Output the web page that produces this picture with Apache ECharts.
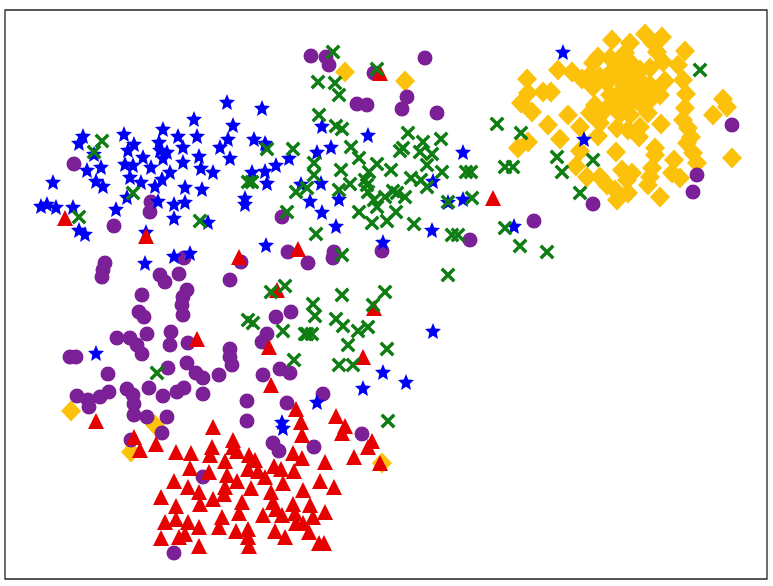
<!DOCTYPE html>
<html><head><meta charset="utf-8">
<script src="https://cdn.jsdelivr.net/npm/echarts@6/dist/echarts.min.js"></script>
<style>html,body{margin:0;padding:0;background:#fff}#c{width:773px;height:586px}</style></head>
<body><div id="c"></div>
<script>
const blueStars=[[227,102],[194,119],[233,125],[83,136],[79,143],[124,134],[134,144],[128,150],[163,129],[178,136],[197,136],[159,142],[183,147],[228,139],[220,147],[254,139],[167,152],[160,150],[199,156],[143,157],[125,164],[133,165],[151,167],[163,158],[183,162],[201,168],[213,172],[230,158],[252,172],[94,154],[101,167],[87,170],[96,181],[103,186],[130,177],[141,182],[170,172],[162,179],[155,186],[185,187],[202,189],[53,182],[41,206],[47,204],[56,207],[73,207],[79,230],[85,234],[116,209],[127,197],[158,201],[174,204],[185,202],[174,218],[208,222],[245,198],[245,204],[146,232],[145,263],[174,256],[190,253],[96,353],[266,245],[262,108],[322,126],[368,135],[265,143],[266,145],[331,147],[317,152],[289,158],[276,165],[265,171],[267,183],[301,184],[321,183],[463,152],[433,181],[339,199],[310,201],[322,212],[448,202],[463,199],[336,226],[432,230],[383,242],[514,226],[563,52],[584,139],[433,331],[383,372],[406,382],[363,388],[317,402],[282,422],[283,428]];
const greenCrosses=[[102,141],[94,152],[133,193],[79,217],[200,221],[248,182],[333,52],[377,69],[318,82],[335,83],[339,95],[319,115],[336,126],[342,129],[497,124],[408,133],[441,139],[423,142],[403,148],[400,151],[420,152],[432,154],[351,147],[293,149],[267,149],[359,158],[377,164],[314,163],[427,165],[341,170],[391,170],[369,172],[442,172],[314,175],[466,172],[471,172],[411,178],[421,180],[350,184],[365,180],[367,185],[427,187],[307,188],[296,192],[339,190],[368,192],[393,191],[397,193],[385,197],[405,197],[374,200],[377,207],[472,198],[448,202],[359,212],[396,212],[287,212],[387,221],[372,223],[414,224],[316,234],[452,235],[458,235],[505,228],[342,255],[252,182],[700,70],[521,133],[557,157],[593,160],[562,172],[580,193],[513,167],[505,167],[520,246],[547,252],[448,275],[342,295],[271,292],[285,286],[385,292],[313,304],[315,316],[373,305],[336,319],[343,326],[248,320],[253,323],[283,331],[305,334],[312,334],[307,334],[358,331],[368,327],[348,345],[387,349],[294,360],[339,365],[353,365],[388,421],[157,373]];
const purpleCircles=[[74,164],[151,202],[150,212],[114,226],[311,56],[326,57],[329,65],[425,58],[374,73],[407,97],[357,104],[367,105],[402,109],[437,113],[282,217],[470,240],[288,252],[334,252],[382,251],[308,263],[333,258],[732,125],[697,175],[693,192],[593,204],[534,221],[184,258],[105,263],[103,270],[102,277],[160,275],[165,282],[179,274],[230,280],[241,262],[142,295],[187,290],[183,297],[182,305],[183,315],[139,312],[144,317],[147,334],[117,338],[130,338],[137,345],[142,354],[171,332],[170,345],[188,343],[230,349],[230,357],[232,365],[70,357],[76,357],[108,374],[168,368],[187,363],[196,373],[203,378],[219,375],[263,375],[77,396],[88,400],[89,407],[100,397],[109,392],[127,389],[133,395],[134,404],[134,415],[147,417],[149,388],[163,396],[177,392],[184,388],[203,394],[247,401],[247,421],[167,417],[162,433],[276,317],[291,312],[267,334],[262,342],[280,369],[290,373],[323,394],[287,403],[273,443],[279,451],[314,447],[362,434],[203,477],[174,553],[131,440]];
const redTriangles=[[65,218],[380,73],[493,198],[298,249],[146,236],[239,257],[197,339],[277,290],[374,308],[269,347],[363,357],[271,385],[336,416],[345,426],[342,433],[96,421],[134,437],[140,450],[156,444],[213,427],[233,440],[212,447],[233,447],[237,451],[210,455],[176,452],[191,453],[225,461],[249,455],[255,460],[248,469],[258,471],[265,477],[190,468],[209,472],[227,475],[174,481],[237,481],[274,466],[281,469],[294,471],[293,453],[302,458],[325,462],[354,457],[368,447],[372,441],[380,463],[283,483],[320,481],[334,487],[188,487],[199,492],[225,487],[251,488],[224,494],[161,497],[213,499],[200,504],[176,506],[242,502],[271,492],[303,490],[273,502],[310,505],[293,504],[239,513],[263,515],[276,509],[282,515],[295,513],[325,512],[313,517],[176,519],[165,522],[188,522],[222,517],[296,523],[303,523],[199,527],[219,527],[236,531],[248,529],[275,531],[309,532],[185,534],[179,537],[161,538],[285,537],[248,537],[199,546],[249,546],[319,543],[324,543],[296,409],[301,422],[302,435]];
const yellowDiamonds=[[612,40],[630,43],[645,34],[662,37],[653,43],[657,52],[685,51],[625,53],[598,57],[593,63],[558,70],[572,72],[582,79],[622,63],[613,70],[633,72],[650,68],[663,62],[678,65],[600,77],[617,77],[593,87],[607,83],[640,80],[665,81],[683,80],[527,79],[543,92],[551,92],[528,93],[521,103],[532,112],[625,92],[633,90],[643,88],[660,95],[686,94],[723,99],[727,107],[685,108],[713,115],[683,120],[595,105],[625,103],[613,103],[640,103],[648,113],[568,115],[590,113],[600,123],[580,127],[661,124],[548,125],[617,128],[628,130],[640,127],[688,128],[639,137],[598,136],[560,139],[691,137],[687,143],[528,142],[518,148],[616,152],[655,148],[580,151],[693,153],[655,155],[674,160],[697,163],[732,158],[576,166],[652,168],[672,173],[622,170],[632,173],[587,177],[600,177],[680,178],[650,177],[627,180],[607,185],[648,185],[615,190],[628,193],[660,197],[617,200],[345,72],[405,81],[71,411],[131,452],[155,425],[382,463],[630,62],[640,70],[625,80],[635,100],[620,114],[610,95],[650,100],[605,110],[650,85],[610,58],[590,75],[630,115],[620,92],[640,92]];

const STAR='path://M50,0 L64,33 L100,36 L73,60 L81,96 L50,77 L19,96 L27,60 L0,36 L36,33Z';
const CROSS='path://M16,0 L50,34 L84,0 L100,16 L66,50 L100,84 L84,100 L50,66 L16,100 L0,84 L34,50 L0,16Z';
const TRI='path://M50,0 L100,87 L0,87Z';
function s(name,data,symbol,size,color,z){return {name,type:'scatter',data,symbol,symbolSize:size,z,silent:true,itemStyle:{color,opacity:1},emphasis:{disabled:true}};}
const chart=echarts.init(document.getElementById('c'),null,{renderer:'canvas'});
const noAxis={show:true,axisLine:{show:false},axisTick:{show:false},axisLabel:{show:false},splitLine:{show:false}};
chart.setOption({
  animation:false,backgroundColor:'#fff',
  grid:{left:5,right:6,top:10,bottom:7,show:true,borderColor:'#222',borderWidth:1.3,backgroundColor:'#fff'},
  xAxis:Object.assign({type:'value',min:5,max:767},noAxis),
  yAxis:Object.assign({type:'value',min:10,max:579,inverse:true},noAxis),
  series:[
    s('yellow',yellowDiamonds,'diamond',[20,21],'#fcc10a',2),
    s('purple',purpleCircles,'circle',15,'#7b2097',3),
    s('blue',blueStars,STAR,16,'#0000f5',4),
    s('red',redTriangles,TRI,16,'#e60000',5),
    s('green',greenCrosses,CROSS,15,'#0f7d14',6)
  ]
});
</script></body></html>
